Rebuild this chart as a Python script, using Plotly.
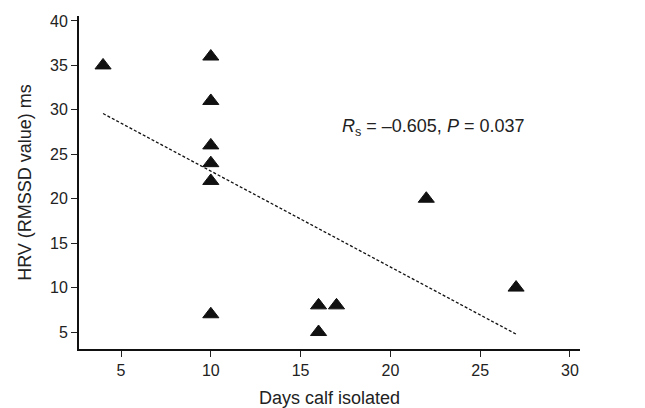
import numpy as np
import plotly.graph_objects as go

days = [4, 10, 10, 10, 10, 10, 10, 16, 16, 17, 22, 27]
hrv = [35, 36, 31, 26, 24, 22, 7, 8, 5, 8, 20, 10]
x_ticks = [5, 10, 15, 20, 25, 30]
y_ticks = [5, 10, 15, 20, 25, 30, 35, 40]

slope, intercept = np.polyfit(days, hrv, 1)
fit_x = [min(days), max(days)]
fit_y = [slope * v + intercept for v in fit_x]

fig = go.Figure()
fig.add_trace(go.Scatter(x=fit_x, y=fit_y, mode="lines",
                         line=dict(color="#111", width=1.3, dash="3px,2px"),
                         showlegend=False, hoverinfo="skip"))
fig.add_trace(go.Scatter(x=days, y=hrv, mode="markers",
                         marker=dict(symbol="triangle-up", size=14, color="#111",
                                     line=dict(color="#111", width=1)),
                         showlegend=False))

fig.add_annotation(x=17.2, y=28.0, xanchor="left", yanchor="middle", showarrow=False,
                   text="<i>R</i><sub>s</sub> = \u20130.605, <i>P</i> = 0.037",
                   font=dict(family="Liberation Sans, Arial", size=18, color="#222"))

fig.update_layout(
    width=645, height=408,
    margin=dict(l=79, r=65, t=16, b=59, autoexpand=False),
    paper_bgcolor="white", plot_bgcolor="white",
    font=dict(family="Liberation Sans, Arial", size=16, color="#222"),
    xaxis=dict(range=[2.66, 30.56], tickvals=x_ticks, ticks="outside", ticklen=6,
               tickcolor="#222", tickwidth=1.2, showline=True, linecolor="#111", linewidth=2,
               showgrid=False, zeroline=False, automargin=False,
               title=dict(text="Days calf isolated", font=dict(size=18), standoff=18)),
    yaxis=dict(range=[3.09, 40.56], tickvals=y_ticks, ticks="outside", ticklen=6,
               tickcolor="#222", tickwidth=1.2, showline=True, linecolor="#111", linewidth=2,
               showgrid=False, zeroline=False, automargin=False,
               title=dict(text="HRV (RMSSD value) ms", font=dict(size=18), standoff=14)),
)

fig.write_html("out.html")
